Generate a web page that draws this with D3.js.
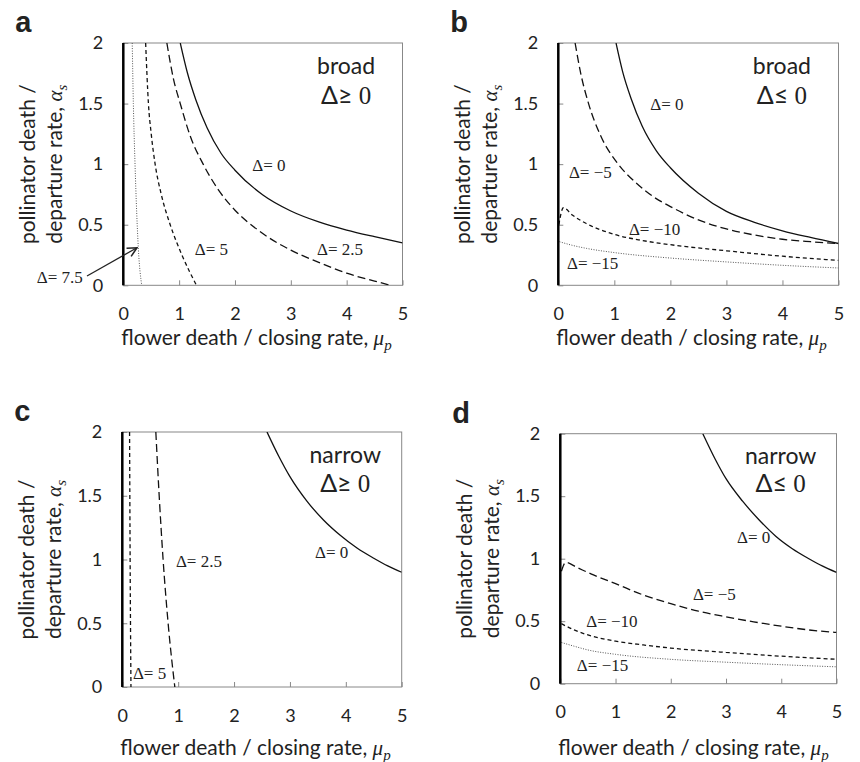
<!DOCTYPE html>
<html>
<head>
<meta charset="utf-8">
<script src="https://cdn.jsdelivr.net/npm/d3@7"></script>
<style>
  body { margin: 0; background: #fff; }
  svg { display: block; }
  text { font-family: Lato, "Open Sans", sans-serif; fill: #222; }
</style>
</head>
<body>
<svg id="chart" width="860" height="762"></svg>
<script>
// axis ticks
var xTicks = [0, 1, 2, 3, 4, 5];
var yTicks = [0, 0.5, 1, 1.5, 2];

// panel a : broad, delta >= 0   (points are [mu_p, alpha_s])
var aDelta0   = [[1.02,2],[1.15,1.75],[1.3,1.53],[1.5,1.3],[1.75,1.09],[2,0.95],[2.5,0.745],[3,0.613],[3.5,0.523],[4,0.456],[4.5,0.401],[5,0.35]];
var aDelta2_5 = [[0.78,2],[0.9,1.7],[1.02,1.5],[1.2,1.23],[1.43,1.0],[1.7,0.79],[2,0.62],[2.4,0.46],[3,0.29],[3.5,0.19],[4,0.1],[4.5,0.035],[4.78,0]];
var aDelta5   = [[0.4,2],[0.45,1.5],[0.5,1.25],[0.57,1.0],[0.68,0.75],[0.84,0.5],[1.05,0.25],[1.31,0]];
var aDelta7_5 = [[0.16,2],[0.18,1.5],[0.21,1.0],[0.24,0.6],[0.27,0.3],[0.33,0]];

// panel b : broad, delta <= 0
var bDelta0   = [[1.03,2],[1.15,1.76],[1.3,1.54],[1.5,1.31],[1.75,1.11],[2,0.97],[2.5,0.76],[3,0.61],[3.5,0.52],[4,0.45],[4.5,0.395],[5,0.345]];
var bDeltaM5  = [[0.3,2],[0.4,1.75],[0.54,1.5],[0.75,1.24],[1.07,1.0],[1.4,0.84],[1.7,0.73],[2,0.65],[2.5,0.54],[3,0.465],[3.5,0.415],[4,0.38],[4.5,0.36],[5,0.345]];
var bDeltaM10 = [[0.01,0.5],[0.09,0.64],[0.25,0.58],[0.5,0.51],[1,0.42],[1.5,0.37],[2,0.335],[3,0.285],[4,0.24],[5,0.205]];
var bDeltaM15 = [[0.02,0.36],[0.25,0.33],[0.5,0.305],[1,0.27],[2,0.225],[3,0.193],[4,0.165],[5,0.143]];

// panel c : narrow, delta >= 0
var cDelta0   = [[2.59,2],[2.8,1.81],[3,1.65],[3.3,1.46],[3.6,1.31],[3.9,1.19],[4.2,1.09],[4.5,1.01],[4.75,0.95],[5,0.9]];
var cDelta2_5 = [[0.6,2],[0.66,1.5],[0.73,1.0],[0.82,0.5],[0.94,0]];
var cDelta5   = [[0.13,2],[0.14,1],[0.155,0]];

// panel d : narrow, delta <= 0
var dDelta0   = [[2.58,2],[2.8,1.8],[3,1.64],[3.3,1.46],[3.6,1.31],[3.9,1.18],[4.2,1.08],[4.5,1.0],[4.75,0.94],[5,0.89]];
var dDeltaM5  = [[0.02,0.9],[0.1,0.97],[0.3,0.93],[0.6,0.87],[1,0.8],[1.5,0.71],[2,0.64],[2.5,0.58],[3,0.535],[3.5,0.495],[4,0.46],[4.5,0.43],[5,0.41]];
var dDeltaM10 = [[0.02,0.48],[0.25,0.43],[0.5,0.39],[1,0.34],[1.5,0.31],[2,0.285],[3,0.25],[4,0.22],[5,0.195]];
var dDeltaM15 = [[0.02,0.33],[0.25,0.3],[0.5,0.27],[1,0.235],[2,0.195],[3,0.172],[4,0.152],[5,0.135]];

var dashes = { solid: null, long: "8,4", short: "4,3", dot: "1,1.5" };

var panels = [
  { letter: "a", box: [123.3, 402.5, 43, 285.3], kind: "broad", sign: "≥",
    curves: [[aDelta0, "solid"], [aDelta2_5, "long"], [aDelta5, "short"], [aDelta7_5, "dot"]],
    labels: [["Δ= 0", 2.31, 0.94], ["Δ= 5", 1.28, 0.25], ["Δ= 2.5", 3.47, 0.25], ["Δ= 7.5", -1.55, 0.02]],
    arrow: [[-0.65, 0.077], [0.245, 0.31]], titleY: 345 },
  { letter: "b", box: [558.3, 838.5, 43, 285.3], kind: "broad", sign: "≤",
    curves: [[bDelta0, "solid"], [bDeltaM5, "long"], [bDeltaM10, "short"], [bDeltaM15, "dot"]],
    labels: [["Δ= 0", 1.64, 1.45], ["Δ= −5", 0.19, 0.885], ["Δ= −10", 1.26, 0.415], ["Δ= −15", 0.155, 0.135]],
    titleY: 345 },
  { letter: "c", box: [122.3, 401.7, 432, 687], kind: "narrow", sign: "≥",
    curves: [[cDelta0, "solid"], [cDelta2_5, "long"], [cDelta5, "short"]],
    labels: [["Δ= 2.5", 0.96, 0.94], ["Δ= 0", 3.45, 1.01], ["Δ= 5", 0.19, 0.063]],
    titleY: 755 },
  { letter: "d", box: [560.3, 836.5, 433.7, 683.7], kind: "narrow", sign: "≤",
    curves: [[dDelta0, "solid"], [dDeltaM5, "long"], [dDeltaM10, "short"], [dDeltaM15, "dot"]],
    labels: [["Δ= 0", 3.2, 1.126], ["Δ= −5", 2.4, 0.67], ["Δ= −10", 0.47, 0.454], ["Δ= −15", 0.3, 0.1]],
    titleY: 755 }
];

var svg = d3.select("#chart");
var defs = svg.append("defs");
defs.append("marker").attr("id", "arrowhead")
  .attr("viewBox", "0 0 10 10").attr("refX", 9).attr("refY", 5)
  .attr("markerWidth", 9).attr("markerHeight", 9).attr("orient", "auto")
  .append("path").attr("d", "M1,1 L9,5 L1,9").attr("fill", "none").attr("stroke", "#222").attr("stroke-width", 1.3);

panels.forEach(function(p, i) {
  var x = d3.scaleLinear().domain([0, 5]).range([p.box[0], p.box[1]]);
  var y = d3.scaleLinear().domain([0, 2]).range([p.box[3], p.box[2]]);
  var g = svg.append("g");

  defs.append("clipPath").attr("id", "clip" + i)
    .append("rect").attr("x", p.box[0]).attr("y", p.box[2])
    .attr("width", p.box[1] - p.box[0]).attr("height", p.box[3] - p.box[2]);

  // frame
  g.append("rect").attr("x", p.box[0]).attr("y", p.box[2])
    .attr("width", p.box[1] - p.box[0]).attr("height", p.box[3] - p.box[2])
    .attr("fill", "none").attr("stroke", "#888").attr("stroke-width", 1);

  // axes with inward ticks
  var xa = g.append("g").attr("transform", "translate(0," + p.box[3] + ")")
    .call(d3.axisBottom(x).tickValues(xTicks).tickFormat(d3.format("d")).tickSize(-5).tickPadding(22));
  var ya = g.append("g").attr("transform", "translate(" + p.box[0] + ",0)")
    .call(d3.axisLeft(y).tickValues(yTicks).tickFormat(function(d) { return String(d); }).tickSize(-5).tickPadding(20));
  [xa, ya].forEach(function(a) {
    a.select(".domain").remove();
    a.selectAll(".tick line").attr("stroke", "#888");
    a.selectAll(".tick text").style("font-family", "Lato, 'Open Sans', sans-serif").style("font-size", "18px").attr("fill", "#222");
  });

  // curves
  var line = d3.line().x(function(d) { return x(d[0]); }).y(function(d) { return y(d[1]); })
    .curve(d3.curveMonotoneX);
  var cg = g.append("g").attr("clip-path", "url(#clip" + i + ")");
  p.curves.forEach(function(c) {
    cg.append("path").datum(c[0]).attr("d", line).attr("fill", "none")
      .attr("stroke", c[1] === "dot" ? "#555" : "#111")
      .attr("stroke-width", c[1] === "dot" ? 1 : 1.3)
      .attr("stroke-dasharray", dashes[c[1]]);
  });

  // thick left edge at mu = 0
  g.append("line").attr("x1", x(0)).attr("x2", x(0)).attr("y1", p.box[2]).attr("y2", p.box[3])
    .attr("stroke", "#000").attr("stroke-width", 2.5);

  // curve labels
  p.labels.forEach(function(l) {
    g.append("text").attr("x", x(l[1])).attr("y", y(l[2]))
      .style("font-family", "'Liberation Serif', 'DejaVu Serif', serif").style("font-size", "17px")
      .text(l[0]);
  });

  if (p.arrow) {
    g.append("line")
      .attr("x1", x(p.arrow[0][0])).attr("y1", y(p.arrow[0][1]))
      .attr("x2", x(p.arrow[1][0])).attr("y2", y(p.arrow[1][1]))
      .attr("stroke", "#222").attr("stroke-width", 1.3).attr("marker-end", "url(#arrowhead)");
  }

  // region text
  var kindY = p.kind === "broad" ? 1.74 : 1.76;
  var signY = p.kind === "broad" ? 1.5 : 1.53;
  g.append("text").attr("x", x(3.99)).attr("y", y(kindY))
    .attr("text-anchor", "middle").style("font-size", "23px").text(p.kind);
  var s = g.append("text").attr("x", x(3.99)).attr("y", y(signY))
    .attr("text-anchor", "middle").style("font-size", "25px");
  s.append("tspan").text("Δ" + p.sign);
  s.append("tspan").style("font-family", "'Liberation Serif', serif").text(" 0");

  // panel letter
  g.append("text").attr("x", p.box[0] - 108).attr("y", p.box[2] - 11)
    .style("font-family", "'Liberation Sans', Arial, sans-serif").style("font-weight", "bold")
    .style("font-size", "29px").text(p.letter);

  // x title
  var xt = g.append("text").attr("x", p.box[0] - 2).attr("y", p.titleY).style("font-size", "21px");
  xt.append("tspan").text("flower death / closing rate, ");
  xt.append("tspan").style("font-family", "'Liberation Serif', serif").style("font-style", "italic").text("μ");
  xt.append("tspan").attr("dy", 5).style("font-family", "'Liberation Serif', serif").style("font-style", "italic")
    .style("font-size", "15px").text("p");

  // y title (two rotated lines)
  var cy = (p.box[2] + p.box[3]) / 2;
  g.append("text").attr("transform", "translate(" + (p.box[0] - 88) + "," + cy + ") rotate(-90)")
    .attr("text-anchor", "middle").style("font-size", "21px").text("pollinator death /");
  var yt = g.append("text").attr("transform", "translate(" + (p.box[0] - 61) + "," + cy + ") rotate(-90)")
    .attr("text-anchor", "middle").style("font-size", "21px");
  yt.append("tspan").text("departure rate, ");
  yt.append("tspan").style("font-family", "'Liberation Serif', serif").style("font-style", "italic").text("α");
  yt.append("tspan").attr("dy", 5).style("font-family", "'Liberation Serif', serif").style("font-style", "italic")
    .style("font-size", "15px").text("s");
});
</script>
</body>
</html>
